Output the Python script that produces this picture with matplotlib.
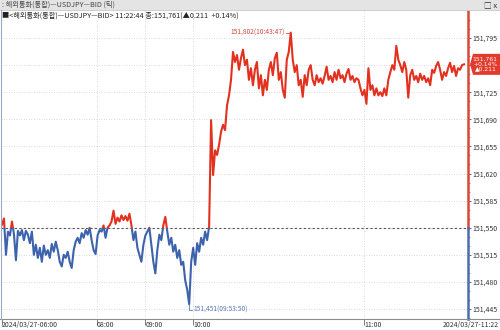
import matplotlib
matplotlib.use('Agg')
import matplotlib.pyplot as plt
import matplotlib.patches as patches
import matplotlib.ticker as mticker
import numpy as np

plt.rcParams['font.family'] = ['Noto Sans CJK KR', 'DejaVu Sans']

# tick-by-tick USDJPY bid prices (sampled from the chart)
prices = [
    151.554, 151.562, 151.515, 151.545, 151.540, 151.558, 151.542, 151.508, 151.546, 151.540,
    151.547, 151.534, 151.546, 151.541, 151.530, 151.545, 151.515, 151.528, 151.511, 151.524,
    151.506, 151.527, 151.515, 151.521, 151.511, 151.529, 151.519, 151.532, 151.521, 151.506,
    151.500, 151.515, 151.511, 151.519, 151.506, 151.498, 151.521, 151.532, 151.537, 151.530,
    151.543, 151.537, 151.547, 151.541, 151.550, 151.534, 151.521, 151.516, 151.540, 151.547,
    151.545, 151.553, 151.537, 151.550, 151.553, 151.558, 151.572, 151.555, 151.563, 151.558,
    151.566, 151.560, 151.565, 151.559, 151.568, 151.553, 151.534, 151.545, 151.524, 151.515,
    151.506, 151.528, 151.540, 151.545, 151.550, 151.528, 151.506, 151.491, 151.521, 151.541,
    151.534, 151.553, 151.564, 151.545, 151.528, 151.537, 151.519, 151.528, 151.511, 151.521,
    151.502, 151.506, 151.482, 151.470, 151.451, 151.506, 151.524, 151.502, 151.530, 151.519,
    151.537, 151.528, 151.545, 151.534, 151.551, 151.689, 151.618, 151.650, 151.644, 151.657,
    151.674, 151.683, 151.676, 151.708, 151.721, 151.741, 151.777, 151.764, 151.773, 151.754,
    151.769, 151.780, 151.760, 151.767, 151.741, 151.756, 151.734, 151.754, 151.764, 151.730,
    151.747, 151.721, 151.741, 151.728, 151.754, 151.764, 151.747, 151.769, 151.776, 151.741,
    151.751, 151.728, 151.718, 151.767, 151.777, 151.802, 151.767, 151.751, 151.760, 151.734,
    151.741, 151.719, 151.747, 151.734, 151.754, 151.760, 151.741, 151.734, 151.747, 151.738,
    151.743, 151.736, 151.746, 151.758, 151.741, 151.746, 151.738, 151.751, 151.741, 151.754,
    151.743, 151.747, 151.738, 151.749, 151.755, 151.741, 151.746, 151.738, 151.743, 151.741,
    151.730, 151.721, 151.728, 151.710, 151.756, 151.728, 151.734, 151.721, 151.730, 151.721,
    151.725, 151.720, 151.730, 151.721, 151.741, 151.751, 151.760, 151.754, 151.785, 151.767,
    151.760, 151.751, 151.764, 151.754, 151.718, 151.747, 151.754, 151.741, 151.746, 151.738,
    151.749, 151.741, 151.746, 151.738, 151.743, 151.734, 151.754, 151.750, 151.759, 151.764,
    151.754, 151.741, 151.751, 151.746, 151.756, 151.763, 151.751, 151.759, 151.746, 151.756,
    151.754, 151.760, 151.761,
]
base_price = 151.550          # previous close
max_time = '10:43:47'
min_time = '09:53:50'

time_tick_idx = [0, 47.5, 72, 96, 182]
time_tick_labels = ['2024/03/27-06:00', '08:00', '09:00', '10:00', '11:00']
end_label = '2024/03/27-11:22'

y_ticks = [151.445, 151.480, 151.515, 151.550, 151.585, 151.620,
           151.655, 151.690, 151.725, 151.760, 151.795]

title_text = ': 해외통화(통합)—USDJPY—BID (틱)'
info_text = '■<해외통화(통합)—USDJPY—BID> 11:22:44 종:151,761(▲0.211  +0.14%)'
box_lines = ['151,761', '+0.14%', '▲0.211']

RED = '#e3311f'
BLUE = '#3c63ab'
RED_AXIS = '#d9483b'
BLUE_AXIS = '#4a6db0'
GRID = '#cfcfcf'


def fmt(v):
    return f'{v:.3f}'.replace('.', ',')


fig = plt.figure(figsize=(5, 3.3), dpi=100)
fig.patch.set_facecolor('white')
ax = fig.add_axes([0.002, 11 / 330, 467 / 500, 308 / 330])

x = np.arange(len(prices))
y = np.array(prices)
y0, y1 = 151.4321, 151.8299
ax.set_xlim(-0.5, 234)
ax.set_ylim(y0, y1)

# line coloured by position relative to the previous close
red_line, = ax.plot(x, y, color=RED, lw=1.5, zorder=3)
blue_line, = ax.plot(x, y, color=BLUE, lw=1.5, zorder=3)
red_line.set_clip_path(patches.Rectangle((-1, base_price), 300, 1, transform=ax.transData))
blue_line.set_clip_path(patches.Rectangle((-1, base_price - 1), 300, 1, transform=ax.transData))

# previous close line
ax.axhline(base_price, color='#555555', lw=0.8, ls=(0, (2, 2)), zorder=2)

# grid
for v in y_ticks:
    ax.axhline(v, color=GRID, lw=0.6, ls=(0, (1, 2)), zorder=1)
for t in time_tick_idx[1:]:
    ax.axvline(t, color=GRID, lw=0.6, ls=(0, (1, 2)), zorder=1)

for s in ['top', 'left', 'right', 'bottom']:
    ax.spines[s].set_visible(False)

# right axis coloured red/blue
frac = (base_price - y0) / (y1 - y0)
ax.axvline(234, ymin=frac, ymax=1, color=RED_AXIS, lw=1.8, clip_on=False, zorder=4)
ax.axvline(234, ymin=0, ymax=frac, color=BLUE_AXIS, lw=1.8, clip_on=False, zorder=4)

last = y[-1]
ax.yaxis.tick_right()
ax.set_yticks(y_ticks)
# the label next to the last price is hidden behind the price box
ax.set_yticklabels(['' if abs(v - last) < 0.01 else fmt(v) for v in y_ticks], fontsize=5)
ax.yaxis.set_minor_locator(mticker.MultipleLocator(0.035 / 3))
ax.tick_params(axis='y', which='major', length=2, width=0.6, pad=1.5, colors='#555555', labelcolor='#333333')
ax.tick_params(axis='y', which='minor', length=1.2, width=0.5, colors='#777777')

ax.set_xticks(time_tick_idx)
ax.set_xticklabels(time_tick_labels, fontsize=5, ha='left')
ax.tick_params(axis='x', length=4.5, width=0.6, pad=-3, colors='#666666', labelcolor='#333333')

# bottom axis line across the full width
fig.add_artist(plt.Line2D([0, 1], [11 / 330, 11 / 330], color='#8c8c8c', lw=0.8))
fig.text(499 / 500, 4.5 / 330, end_label, fontsize=5, color='#333333', ha='right', va='center')

# max / min annotations
imax = int(np.argmax(y))
imin = int(np.argmin(y))
ax.plot([imax - 2.5, imax], [y[imax], y[imax]], color=RED_AXIS, lw=0.6, zorder=4)
ax.text(imax - 3, y[imax], f'{fmt(y[imax])}({max_time})', fontsize=4.8,
        color='#d0493c', ha='right', va='center', zorder=5)
low_y = y[imin] - 0.007
ax.plot([imin, imin, imin + 1.5], [y[imin], low_y, low_y], color='#5b7bb5', lw=0.6,
        zorder=4, clip_on=False)
ax.text(imin + 2, low_y, f'{fmt(y[imin])}({min_time})', fontsize=4.8,
        color='#5b7bb5', ha='left', va='center', zorder=5)

# last price box on the right
ly = fig.transFigure.inverted().transform(ax.transData.transform((0, last)))[1]
bh = 21 / 330
box = patches.Polygon([[470 / 500, ly], [473 / 500, ly + bh / 2], [1.0, ly + bh / 2],
                       [1.0, ly - bh / 2], [473 / 500, ly - bh / 2]],
                      closed=True, transform=fig.transFigure, facecolor='#e23b2c',
                      edgecolor='none', zorder=10)
fig.add_artist(box)
fig.text(497 / 500, ly, '\n'.join(box_lines), fontsize=4.3, color='white', family='DejaVu Sans',
         ha='right', va='center', multialignment='right', linespacing=0.95, zorder=11)

# title bar
fig.add_artist(patches.Rectangle((0, 1 - 10 / 330), 1, 10 / 330, transform=fig.transFigure,
                                 facecolor='#e4e4e4', edgecolor='none', zorder=0))
fig.add_artist(plt.Line2D([0, 1], [1 - 10 / 330, 1 - 10 / 330], color='#c8c8c8', lw=0.6))
fig.text(2 / 500, 1 - 5 / 330, title_text, fontsize=5.2, color='#444444', va='center')
fig.text(497 / 500, 1 - 5 / 330, '□ x', fontsize=5.5, color='#333333', va='center', ha='right')
fig.text(2 / 500, 1 - 15.5 / 330, info_text, fontsize=5.2, color='#222222', va='center')

# left border
fig.add_artist(plt.Line2D([0.001, 0.001], [11 / 330, 1 - 10 / 330], color='#9aaac4', lw=0.8))

fig.savefig('out.png', dpi=100)
